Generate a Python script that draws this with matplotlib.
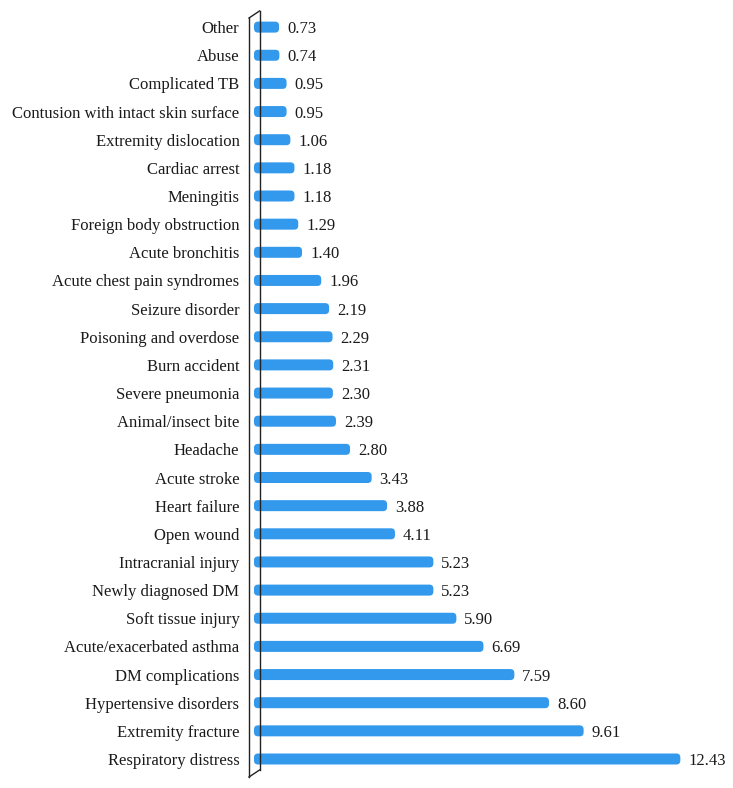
import matplotlib
matplotlib.use("Agg")
import matplotlib.pyplot as plt
from matplotlib.patches import FancyBboxPatch
from matplotlib.lines import Line2D

categories = [
    "Respiratory distress", "Extremity fracture", "Hypertensive disorders",
    "DM complications", "Acute/exacerbated asthma", "Soft tissue injury",
    "Newly diagnosed DM", "Intracranial injury", "Open wound", "Heart failure",
    "Acute stroke", "Headache", "Animal/insect bite", "Severe pneumonia",
    "Burn accident", "Poisoning and overdose", "Seizure disorder",
    "Acute chest pain syndromes", "Acute bronchitis", "Foreign body obstruction",
    "Meningitis", "Cardiac arrest", "Extremity dislocation",
    "Contusion with intact skin surface", "Complicated TB", "Abuse", "Other",
]
values = [12.43, 9.61, 8.60, 7.59, 6.69, 5.90, 5.23, 5.23, 4.11, 3.88,
          3.43, 2.80, 2.39, 2.30, 2.31, 2.29, 2.19, 1.96, 1.40, 1.29,
          1.18, 1.18, 1.06, 0.95, 0.95, 0.74, 0.73]
value_labels = ["%.2f" % v for v in values]

W, H = 733, 788
fig = plt.figure(figsize=(W / 100, H / 100), dpi=100)
plt.rcParams['font.family'] = ['Liberation Serif', 'DejaVu Serif']

# axes geometry in pixels
x0_px = 254.0
px_per_unit = 34.3
ax_right_px = 733.0
y_top_px = 11.0
y_bot_px = 777.0
ax = fig.add_axes([x0_px / W, (H - y_bot_px) / H,
                   (ax_right_px - x0_px) / W, (y_bot_px - y_top_px) / H])
xmax = (ax_right_px - x0_px) / px_per_unit
ax.set_xlim(0, xmax)

row_px = 28.15
first_center_px = 759.0  # Respiratory distress
ylo = -(y_bot_px - first_center_px) / row_px
yhi = ylo + (y_bot_px - y_top_px) / row_px
ax.set_ylim(ylo, yhi)

color = "#3399ec"
bar_h_px = 11.0
bar_h = bar_h_px / row_px
aspect = px_per_unit / row_px
r = 4.0 / px_per_unit
for i, v in enumerate(values):
    p = FancyBboxPatch((0, i - bar_h / 2), v, bar_h,
                       boxstyle="round,pad=0,rounding_size=%f" % r,
                       mutation_aspect=aspect,
                       facecolor=color, edgecolor="none", zorder=3)
    ax.add_patch(p)
    ax.text(v + 8.0 / px_per_unit, i, value_labels[i], va="center_baseline",
            ha="left", fontsize=12, color="#1a1a1a")

ax.set_yticks(range(len(categories)))
ax.set_yticklabels(categories, fontsize=12, color="#1a1a1a")
ax.tick_params(axis="y", length=0, pad=10.5)
ax.set_xticks([])
for s in ax.spines.values():
    s.set_visible(False)
ax.patch.set_alpha(0)

# 3D-style wall
def fx(px):
    return px / W

def fy(py):
    return (H - py) / H

lw = 1.0
lc = "#222222"
segs = [
    ((249, 18), (249, 777)),
    ((249, 777), (259.5, 770)),
    ((259.5, 770), (259.5, 11)),
    ((259.5, 11), (249, 18)),
]
for (a, b) in segs:
    fig.add_artist(Line2D([fx(a[0]), fx(b[0])], [fy(a[1]), fy(b[1])],
                          color=lc, lw=lw, zorder=1))

fig.savefig("out.png", dpi=100, facecolor="white")
